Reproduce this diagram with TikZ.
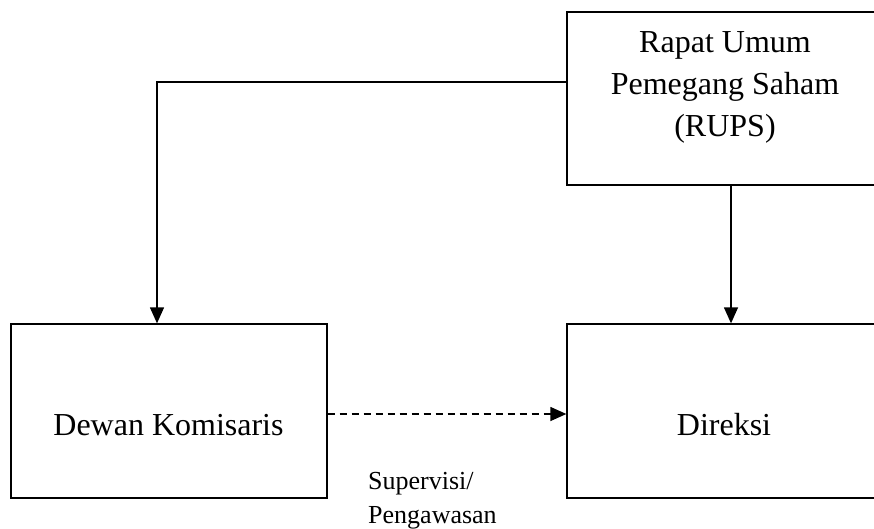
\documentclass[tikz,border=0pt]{standalone}
\usepackage{fontspec}
\setmainfont{Liberation Serif}
\usetikzlibrary{arrows.meta}
\begin{document}
\begin{tikzpicture}[x=1pt, y=-1pt,
  box/.style={draw, line width=1.3pt, rectangle, inner sep=0pt},
  big/.style={font=\fontsize{32}{42}\selectfont},
  small/.style={font=\fontsize{26}{34}\selectfont},
  link/.style={line width=1.3pt, -{Triangle[length=16pt, width=14pt]}},
  dashlink/.style={link, dash pattern=on 7.5pt off 4.5pt}]
\clip (0,0) rectangle (874,529);
\useasboundingbox (0,0) rectangle (874,529);

% the three bodies
\node[box, minimum width=316pt, minimum height=173pt] (rups) at (725,98.5) {};
\node[box, minimum width=316pt, minimum height=174pt] (dewan) at (169,411) {};
\node[box, minimum width=316pt, minimum height=174pt] (direksi) at (725,411) {};

% box texts (multi-line nodes: base anchor sits on the last line)
\node[big, align=center, anchor=base] (rupstext) at (725,137)
  {Rapat Umum\\Pemegang Saham\\(RUPS)};
\node[big, anchor=base] (dewantext) at (168.5,435) {Dewan Komisaris};
\node[big, anchor=base] (direksitext) at (724,435) {Direksi};

% routing points
\coordinate (bend) at (157,82);
\coordinate (drop) at (731,0);
\coordinate (mid) at (0,414);

% connectors
\draw[link] (rups.west |- bend) -- (bend) -- (dewan.north -| bend);
\draw[link] (rups.south -| drop) -- (direksi.north -| drop);
\draw[dashlink] (dewan.east |- mid) -- (direksi.west |- mid);

% label under the dashed connector
\node[small, align=left, anchor=base west, inner sep=0pt] (suplabel) at (368,523)
  {Supervisi/\\Pengawasan};
\end{tikzpicture}
\end{document}
